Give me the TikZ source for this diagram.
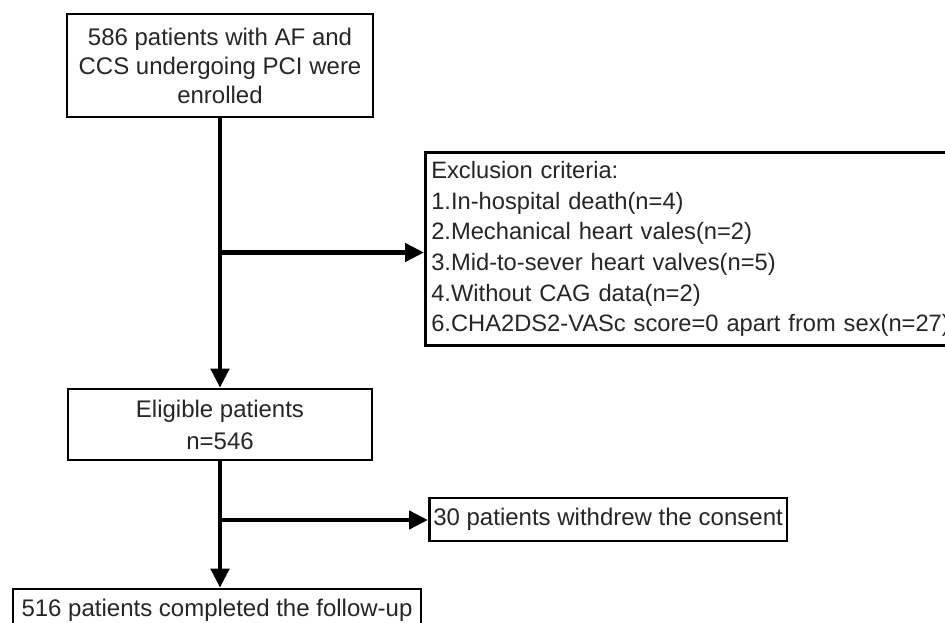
\documentclass[tikz,border=0pt]{standalone}
\usepackage{fontspec}
\setmainfont{Liberation Sans}
\usetikzlibrary{arrows.meta}
\begin{document}
\begin{tikzpicture}[x=1bp,y=-1bp,
  box/.style={draw=black,line width=2.6bp,inner sep=0pt,text=black!85},
  conn/.style={draw=black,line width=4.5bp,-{Triangle[length=19bp,width=18bp]}},
  txt/.style={font=\fontsize{24bp}{29bp}\selectfont}]
\useasboundingbox (0,0) rectangle (945,623);
\fill[white] (0,0) rectangle (945,623);
\node[box,txt,align=center,minimum width=306bp,minimum height=103bp] (b1) at (220,65.5)
  {586 patients with AF and\\CCS undergoing PCI were\\enrolled};
\node[box,align=left,anchor=north west,inner xsep=6bp,text width=530bp,minimum height=192.5bp,
  font=\fontsize{23.7bp}{30.6bp}\selectfont] (excl) at (424,151.5)
  {Exclusion criteria:\\1.In-hospital death(n=4)\\2.Mechanical heart vales(n=2)\\3.Mid-to-sever heart valves(n=5)\\4.Without CAG data(n=2)\\6.CHA2DS2-VASc score=0 apart from sex(n=27)};
\node[box,align=center,minimum width=304bp,minimum height=71bp,
  font=\fontsize{24bp}{32bp}\selectfont] (elig) at (220,424.5)
  {Eligible patients\\n=546};
\node[box,txt,anchor=west,inner xsep=4bp,minimum height=43bp] (w30) at (428,519.5)
  {30 patients withdrew the consent};
\node[box,txt,minimum width=408bp,minimum height=42bp] (fin) at (217,610)
  {516 patients completed the follow-up};
\coordinate (j1) at (220,252.5);
\coordinate (j2) at (220,520);
\draw[conn] (b1.south) -- (b1.south |- elig.north);
\draw[conn] (j1) -- (j1 -| excl.west);
\draw[conn] (elig.south) -- (elig.south |- fin.north);
\draw[conn] (j2) -- (j2 -| w30.west);
\end{tikzpicture}
\end{document}
